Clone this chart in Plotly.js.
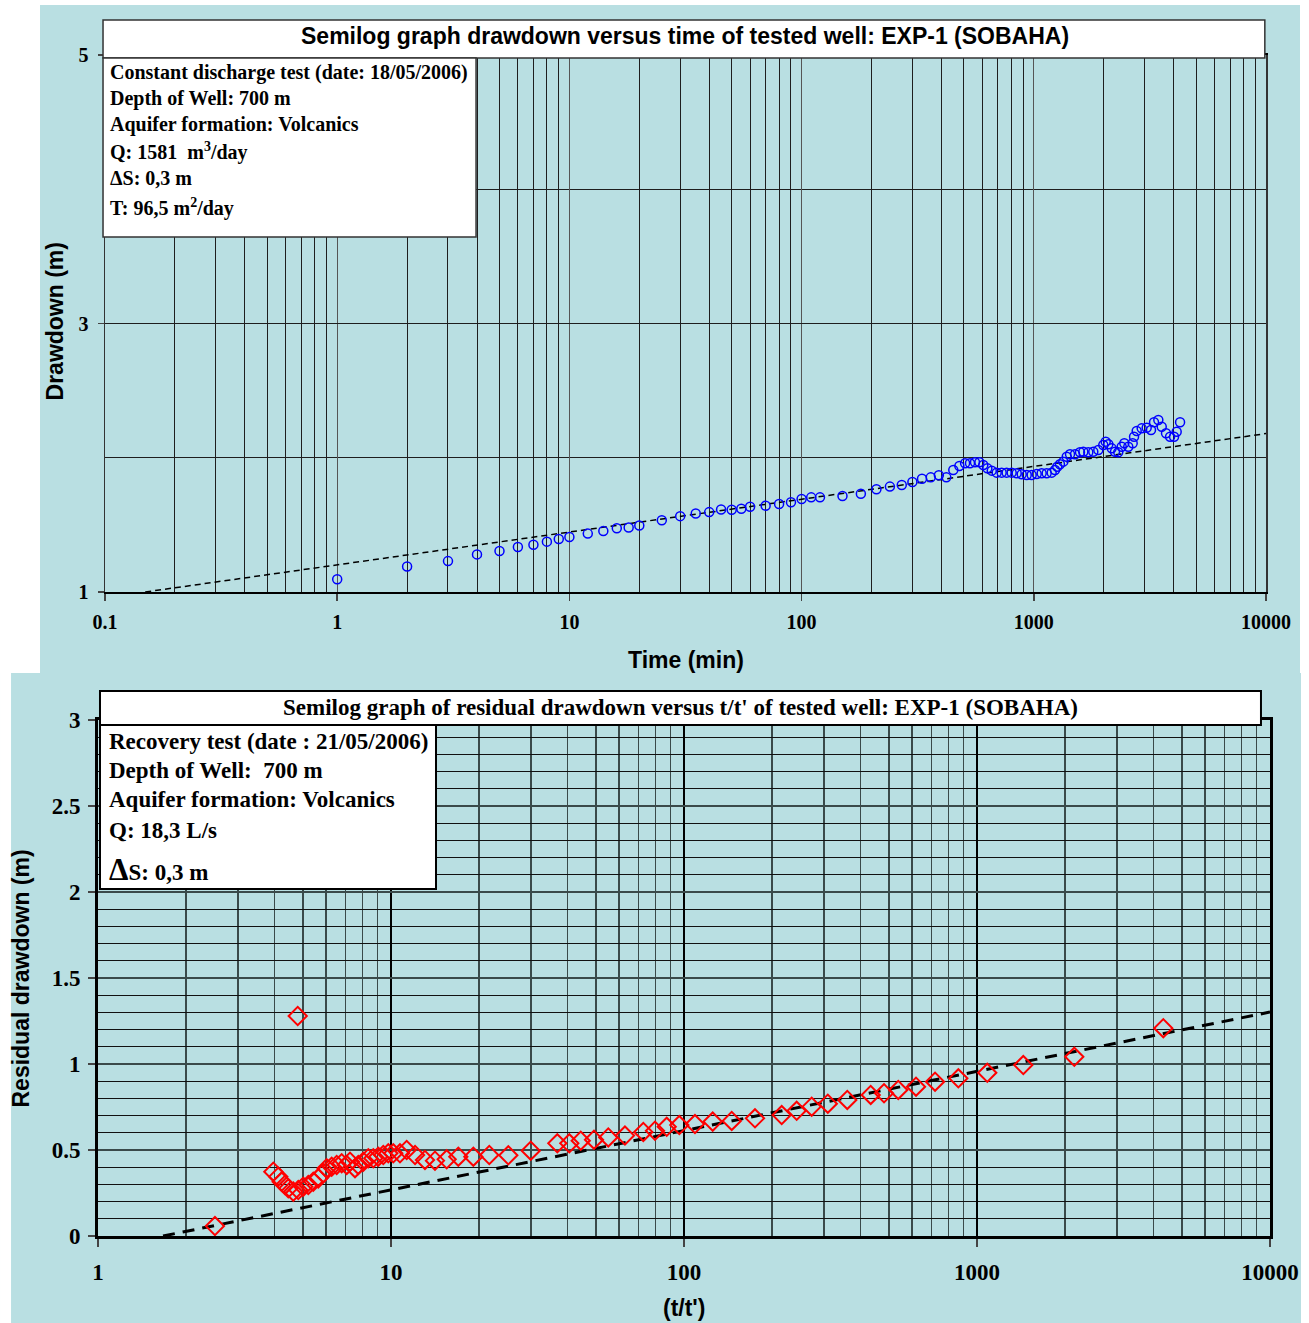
<!DOCTYPE html>
<html>
<head>
<meta charset="utf-8">
<script src="https://cdn.plot.ly/plotly-3.0.1.min.js"></script>
<style>
  html, body { margin: 0; padding: 0; background: #ffffff; }
  #top { position: absolute; left: 40px; top: 5px; width: 1260px; height: 668px; }
  #bottom { position: absolute; left: 0px; top: 673px; width: 1301px; height: 650px; }
</style>
</head>
<body>
<div id="top"></div>
<div id="bottom"></div>
<script>
// ---------- Data: pumping test (drawdown vs time) ----------
const pumpTime = [1,2,3,4,5,6,7,8,9,10,12,14,16,18,20,25,30,35,40,45,50,55,60,70,80,90,100,110,120,150,180,210,240,270,300,330,360,390,420,450,
  478,506,531,558,583,606,631,659,692,727,764,803,844,887,932,979,1029,1081,1136,1194,1234,1262,1296,1340,1386,1432,1505,1581,1634,1717,1804,1896,1992,2040,2094,2165,2237,2311,2391,2453,2552,2666,2702,2774,2915,3063,3197,3294,3438,3556,3710,3863,4018,4124,4265];
const pumpDrawdown = [1.095,1.19,1.23,1.28,1.305,1.335,1.352,1.375,1.395,1.41,1.435,1.455,1.475,1.48,1.495,1.535,1.565,1.585,1.595,1.615,1.613,1.62,1.635,1.643,1.655,1.668,1.693,1.705,1.705,1.715,1.732,1.765,1.785,1.797,1.82,1.844,1.854,1.87,1.854,1.909,
  1.939,1.959,1.959,1.966,1.966,1.946,1.921,1.904,1.889,1.889,1.889,1.889,1.884,1.877,1.872,1.872,1.879,1.884,1.884,1.889,1.909,1.933,1.951,1.971,2.008,2.026,2.026,2.041,2.045,2.041,2.045,2.058,2.095,2.120,2.100,2.070,2.045,2.041,2.082,2.108,2.082,2.108,2.157,2.199,2.219,2.224,2.207,2.264,2.281,2.231,2.182,2.157,2.157,2.194,2.264];
const pumpFitTime = [0.149, 10000];
const pumpFitDrawdown = [1.0, 2.18];

// ---------- Data: recovery test (residual drawdown vs t/t') ----------
const recRatio = [2.507,3.966,4.125,4.236,4.347,4.462,4.640,4.804,4.826,5.019,5.221,5.429,5.647,5.873,6.032,6.274,6.525,6.787,7.059,7.245,7.535,7.733,8.043,8.366,8.701,9.049,9.412,9.790,10.18,10.73,11.31,12.08,13.06,14.13,15.49,16.97,19.10,21.65,25.14,29.99,36.95,40.60,44.42,49.30,55.15,62.88,72.63,79.62,87.30,96.39,109.0,125.3,145.5,174.7,215.5,242.4,272.8,309.6,360.8,433.7,481.6,538.6,619.2,719.2,863.6,1084,1439,2148,4323];
const recResidual = [0.058,0.374,0.345,0.316,0.297,0.277,0.258,1.279,0.267,0.287,0.297,0.316,0.335,0.365,0.394,0.403,0.413,0.423,0.413,0.432,0.394,0.413,0.432,0.452,0.452,0.461,0.471,0.481,0.481,0.481,0.500,0.471,0.442,0.438,0.446,0.461,0.461,0.471,0.469,0.496,0.539,0.539,0.554,0.560,0.573,0.584,0.605,0.612,0.635,0.645,0.651,0.665,0.669,0.684,0.703,0.728,0.752,0.769,0.791,0.820,0.830,0.849,0.868,0.897,0.917,0.949,0.994,1.042,1.208];
const recFitRatio = [1.667, 10000];
const recFitResidual = [0.0, 1.302];

// ---------- Tick labels & texts ----------
const topXTicks = [0.1, 1, 10, 100, 1000, 10000];
const topXTickText = ['0.1','1','10','100','1000','10000'];
const topYTicks = [1, 3, 5];
const botXTicks = [1, 10, 100, 1000, 10000];
const botXTickText = ['1','10','100','1000','10000'];
const botYTicks = [0, 0.5, 1, 1.5, 2, 2.5, 3];
const botYTickText = ['0','0.5','1','1.5','2','2.5','3'];

const topTitle = 'Semilog graph drawdown versus time of tested well: EXP-1 (SOBAHA)';
const topInfo = ['Constant discharge test (date: 18/05/2006)','Depth of Well: 700 m','Aquifer formation: Volcanics','Q: 1581  m<sup>3</sup>/day','ΔS: 0,3 m','T: 96,5 m<sup>2</sup>/day'];
const botTitle = "Semilog graph of residual drawdown versus t/t' of tested well: EXP-1 (SOBAHA)";
const botInfo = ['Recovery test (date : 21/05/2006)','Depth of Well:  700 m','Aquifer formation: Volcanics','Q: 18,3 L/s','<span style="font-size:31px">Δ</span>S: 0,3 m'];

const BG = '#b9dfe2';
const SERIF = 'Liberation Serif, Times New Roman, serif';
const SANS = 'Liberation Sans, Arial, sans-serif';
const GRID = '#1e1e1e';

// ---------- Top chart ----------
const topInfoY = [0.9683, 0.9199, 0.8715, 0.8194, 0.7709, 0.7151];
const topAnn = [{
  xref:'paper', yref:'paper', x:0.4996, y:1.0345, xanchor:'center', yanchor:'middle',
  text: topTitle, showarrow:false, font:{family:SANS, size:23, color:'#000', weight:'bold'}
}, {
  xref:'paper', yref:'paper', x:0.5, y:-0.127, xanchor:'center', yanchor:'middle',
  text:'Time (min)', showarrow:false, font:{family:SANS, size:23, color:'#000', weight:'bold'}
}, {
  xref:'paper', yref:'paper', x:-0.0431, y:0.5037, xanchor:'center', yanchor:'middle', textangle:-90,
  text:'Drawdown (m)', showarrow:false, font:{family:SANS, size:23, color:'#000', weight:'bold'}
}];
topInfo.forEach((t, i) => topAnn.push({
  xref:'paper', yref:'paper', x:0.0026, y:topInfoY[i], xanchor:'left', yanchor:'middle',
  text:t, showarrow:false, font:{family:SERIF, size:20, color:'#000', weight:'bold'}
}));

Plotly.newPlot('top', [
  { x: pumpFitTime, y: pumpFitDrawdown, mode:'lines', type:'scatter',
    line:{color:'#000', width:1.5, dash:'6px,4px'}, hoverinfo:'skip' },
  { x: pumpTime, y: pumpDrawdown, mode:'markers', type:'scatter',
    marker:{symbol:'circle-open', size:9, color:'#0000ff', line:{width:1.5, color:'#0000ff'}} }
], {
  width:1260, height:668,
  margin:{l:65, r:34, t:50, b:81},
  paper_bgcolor:BG, plot_bgcolor:BG,
  showlegend:false,
  xaxis:{ type:'log', range:[-1, 4], tickmode:'array', tickvals:topXTicks, ticktext:topXTickText,
    showgrid:true, gridcolor:'#555', gridwidth:1.3,
    minor:{dtick:'D1', showgrid:true, gridcolor:GRID, gridwidth:1, ticks:''},
    showline:true, linecolor:'#000', linewidth:2, mirror:true,
    ticks:'outside', ticklen:7, tickcolor:'#444', tickwidth:1.5, ticklabelstandoff:4,
    tickfont:{family:SERIF, size:20, color:'#000', weight:'bold'}, zeroline:false },
  yaxis:{ range:[1, 5], tickmode:'array', tickvals:topYTicks,
    showgrid:true, gridcolor:GRID, gridwidth:1,
    minor:{dtick:1, tick0:1, showgrid:true, gridcolor:GRID, gridwidth:1, ticks:''},
    showline:true, linecolor:'#333', linewidth:1.5, mirror:true,
    ticks:'outside', ticklen:6, tickcolor:'#444', tickwidth:1.5, ticklabelstandoff:5,
    tickfont:{family:SERIF, size:20, color:'#000', weight:'bold'}, zeroline:false },
  shapes:[
    {type:'rect', xref:'paper', yref:'paper', x0:-0.0017, x1:0.999, y0:0.9944, y1:1.0652,
      fillcolor:'#fff', line:{color:'#333', width:1.5}, layer:'above'},
    {type:'rect', xref:'paper', yref:'paper', x0:-0.0017, x1:0.3196, y0:0.661, y1:0.9944,
      fillcolor:'#fff', line:{color:'#333', width:1.5}, layer:'above'}
  ],
  annotations: topAnn
}, {staticPlot:true});

// ---------- Bottom chart ----------
const botInfoY = [0.9593, 0.9012, 0.8450, 0.7868, 0.7112];
const botAnn = [{
  xref:'paper', yref:'paper', x:0.4974, y:1.0233, xanchor:'center', yanchor:'middle',
  text: botTitle, showarrow:false, font:{family:SERIF, size:23, color:'#000', weight:'bold'}
}, {
  xref:'paper', yref:'paper', x:0.5, y:-0.1395, xanchor:'center', yanchor:'middle',
  text:"(t/t')", showarrow:false, font:{family:SANS, size:23, color:'#000', weight:'bold'}
}, {
  xref:'paper', yref:'paper', x:-0.0657, y:0.499, xanchor:'center', yanchor:'middle', textangle:-90,
  text:'Residual drawdown (m)', showarrow:false, font:{family:SANS, size:23, color:'#000', weight:'bold'}
}];
botInfo.forEach((t, i) => botAnn.push({
  xref:'paper', yref:'paper', x:0.0077, y:botInfoY[i], xanchor:'left', yanchor:'middle',
  text:t, showarrow:false, font:{family:SERIF, size:23, color:'#000', weight:'bold'}
}));

Plotly.newPlot('bottom', [
  { x: recFitRatio, y: recFitResidual, mode:'lines', type:'scatter',
    line:{color:'#000', width:3, dash:'12px,8px'}, hoverinfo:'skip' },
  { x: recRatio, y: recResidual, mode:'markers', type:'scatter',
    marker:{symbol:'diamond-open', size:14, color:'#ff0000', line:{width:2, color:'#ff0000'}} }
], {
  width:1301, height:650,
  margin:{l:98, r:31, t:47, b:87},
  paper_bgcolor:BG, plot_bgcolor:BG,
  showlegend:false,
  xaxis:{ type:'log', range:[0, 4], tickmode:'array', tickvals:botXTicks, ticktext:botXTickText,
    showgrid:true, gridcolor:'#000', gridwidth:1.2,
    minor:{dtick:'D1', showgrid:true, gridcolor:'#3a4a4a', gridwidth:1.5, ticks:''},
    showline:true, linecolor:'#000', linewidth:3, mirror:true,
    ticks:'outside', ticklen:8, tickcolor:'#444', tickwidth:1.5, ticklabelstandoff:5,
    tickfont:{family:SERIF, size:23, color:'#000', weight:'bold'}, zeroline:false },
  yaxis:{ range:[0, 3], tickmode:'array', tickvals:botYTicks, ticktext:botYTickText,
    showgrid:true, gridcolor:'#3a4a4a', gridwidth:1.5,
    minor:{dtick:0.1, tick0:0, showgrid:true, gridcolor:'#111', gridwidth:1, ticks:''},
    showline:true, linecolor:'#000', linewidth:3, mirror:true,
    ticks:'outside', ticklen:7, tickcolor:'#444', tickwidth:1.5, ticklabelstandoff:3,
    tickfont:{family:SERIF, size:23, color:'#000', weight:'bold'}, zeroline:false },
  shapes:[
    {type:'rect', xref:'paper', yref:'paper', x0:-0.0836, x1:-0.0742, y0:-0.1686, y1:1.0911,
      fillcolor:'#fff', line:{width:0}, layer:'below'},
    {type:'rect', xref:'paper', yref:'paper', x0:0.0017, x1:0.9923, y0:0.9903, y1:1.0562,
      fillcolor:'#fff', line:{color:'#000', width:2}, layer:'above'},
    {type:'rect', xref:'paper', yref:'paper', x0:0.0017, x1:0.2884, y0:0.6725, y1:0.9903,
      fillcolor:'#fff', line:{color:'#000', width:2}, layer:'above'}
  ],
  annotations: botAnn
}, {staticPlot:true});
</script>
</body>
</html>
